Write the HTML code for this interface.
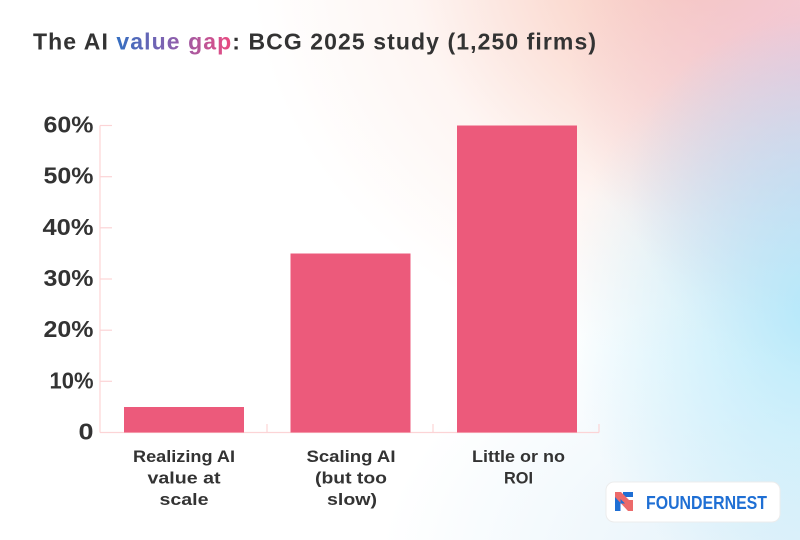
<!DOCTYPE html>
<html>
<head>
<meta charset="utf-8">
<style>
  html, body { margin:0; padding:0; }
  body {
    width:800px; height:540px; overflow:hidden; position:relative;
    background:
      radial-gradient(250px 290px at 815px 310px, rgba(178,232,250,0.95), rgba(178,232,250,0.5) 45%, rgba(178,232,250,0) 100%),
      radial-gradient(200px 180px at 830px 190px, rgba(205,208,236,0.75), rgba(205,208,236,0) 100%),
      radial-gradient(240px 250px at 810px 70px, rgba(240,196,214,0.9), rgba(240,196,214,0) 100%),
      radial-gradient(460px 400px at 710px -40px, rgba(248,195,182,1) 0%, rgba(249,203,190,0.65) 35%, rgba(251,220,210,0.28) 65%, rgba(252,235,228,0) 100%),
      radial-gradient(440px 280px at 820px 570px, rgba(218,237,248,0.85), rgba(218,237,248,0) 100%),
      #ffffff;
    font-family: "Liberation Sans", sans-serif;
  }
  svg { position:absolute; left:0; top:0; }
</style>
</head>
<body>
<svg width="800" height="540" viewBox="0 0 800 540" xmlns="http://www.w3.org/2000/svg">
  <defs>
    <linearGradient id="tg" gradientUnits="userSpaceOnUse" x1="112" y1="0" x2="234" y2="0">
      <stop offset="0" stop-color="#2d6fc2"/>
      <stop offset="0.5" stop-color="#8a60ae"/>
      <stop offset="1" stop-color="#ef4a7f"/>
    </linearGradient>
  </defs>

  <!-- Title -->
  <text x="33" y="49.5" font-family="Liberation Sans, sans-serif" font-weight="bold" font-size="23" fill="#333333" textLength="563" lengthAdjust="spacing">The AI <tspan fill="url(#tg)">value gap</tspan>: BCG 2025 study (1,250 firms)</text>

  <!-- Axes -->
  <g stroke="#fcd4d6" stroke-width="1.2" fill="none">
    <line x1="100" y1="125.5" x2="100" y2="432.5"/>
    <line x1="100" y1="432.5" x2="599" y2="432.5"/>
    <line x1="100" y1="125.5" x2="112" y2="125.5"/>
    <line x1="100" y1="176.7" x2="112" y2="176.7"/>
    <line x1="100" y1="227.8" x2="112" y2="227.8"/>
    <line x1="100" y1="279" x2="112" y2="279"/>
    <line x1="100" y1="330.2" x2="112" y2="330.2"/>
    <line x1="100" y1="381.3" x2="112" y2="381.3"/>
    <line x1="267" y1="424" x2="267" y2="432.5"/>
    <line x1="433" y1="424" x2="433" y2="432.5"/>
    <line x1="599" y1="424" x2="599" y2="432.5"/>
  </g>

  <!-- Y labels -->
  <g font-family="Liberation Sans, sans-serif" font-weight="bold" font-size="23" fill="#333333" text-anchor="end">
    <text x="93.5" y="132.5" textLength="50" lengthAdjust="spacingAndGlyphs">60%</text>
    <text x="93.5" y="183.7" textLength="50" lengthAdjust="spacingAndGlyphs">50%</text>
    <text x="93.5" y="234.8" textLength="51" lengthAdjust="spacingAndGlyphs">40%</text>
    <text x="93.5" y="286" textLength="50" lengthAdjust="spacingAndGlyphs">30%</text>
    <text x="93.5" y="337.2" textLength="50" lengthAdjust="spacingAndGlyphs">20%</text>
    <text x="93.5" y="388.3" textLength="44" lengthAdjust="spacingAndGlyphs">10%</text>
    <text x="93.5" y="439.5" textLength="15" lengthAdjust="spacingAndGlyphs">0</text>
  </g>

  <!-- Bars -->
  <g fill="#ec5a7b">
    <rect x="124" y="407" width="120" height="25.5"/>
    <rect x="290.5" y="253.5" width="120" height="179"/>
    <rect x="457" y="125.5" width="120" height="307"/>
  </g>

  <!-- Category labels -->
  <g font-family="Liberation Sans, sans-serif" font-weight="bold" font-size="16.5" fill="#333333" text-anchor="middle">
    <text x="184" y="462" textLength="102" lengthAdjust="spacingAndGlyphs">Realizing AI</text>
    <text x="184" y="483.5" textLength="73" lengthAdjust="spacingAndGlyphs">value at</text>
    <text x="184" y="505" textLength="49" lengthAdjust="spacingAndGlyphs">scale</text>

    <text x="351" y="462" textLength="89" lengthAdjust="spacingAndGlyphs">Scaling AI</text>
    <text x="351" y="483.5" textLength="72" lengthAdjust="spacingAndGlyphs">(but too</text>
    <text x="352" y="505" textLength="50" lengthAdjust="spacingAndGlyphs">slow)</text>

    <text x="518.5" y="462" textLength="93" lengthAdjust="spacingAndGlyphs">Little or no</text>
    <text x="518.5" y="483.5" textLength="29" lengthAdjust="spacingAndGlyphs">ROI</text>
  </g>

  <!-- Badge -->
  <rect x="606" y="482" width="174" height="40" rx="8" ry="8" fill="#ffffff" stroke="#ececec" stroke-width="1"/>
  <g>
    <rect x="615" y="496" width="5.5" height="15" fill="#1f6fd4"/>
    <rect x="623" y="492" width="10" height="5" fill="#1f6fd4"/>
    <polygon points="615,492 621,492 633,504 633,511 628,511 615,497" fill="#ec6a6a"/>
    <rect x="628" y="500" width="5" height="11" fill="#ec6a6a"/>
    <polygon points="620.5,499 625,503.5 620.5,503.5" fill="#1f6fd4"/>
  </g>
  <text x="646" y="509" font-family="Liberation Sans, sans-serif" font-weight="bold" font-size="18" fill="#1f6fd4" textLength="121" lengthAdjust="spacingAndGlyphs">FOUNDERNEST</text>
</svg>
</body>
</html>
